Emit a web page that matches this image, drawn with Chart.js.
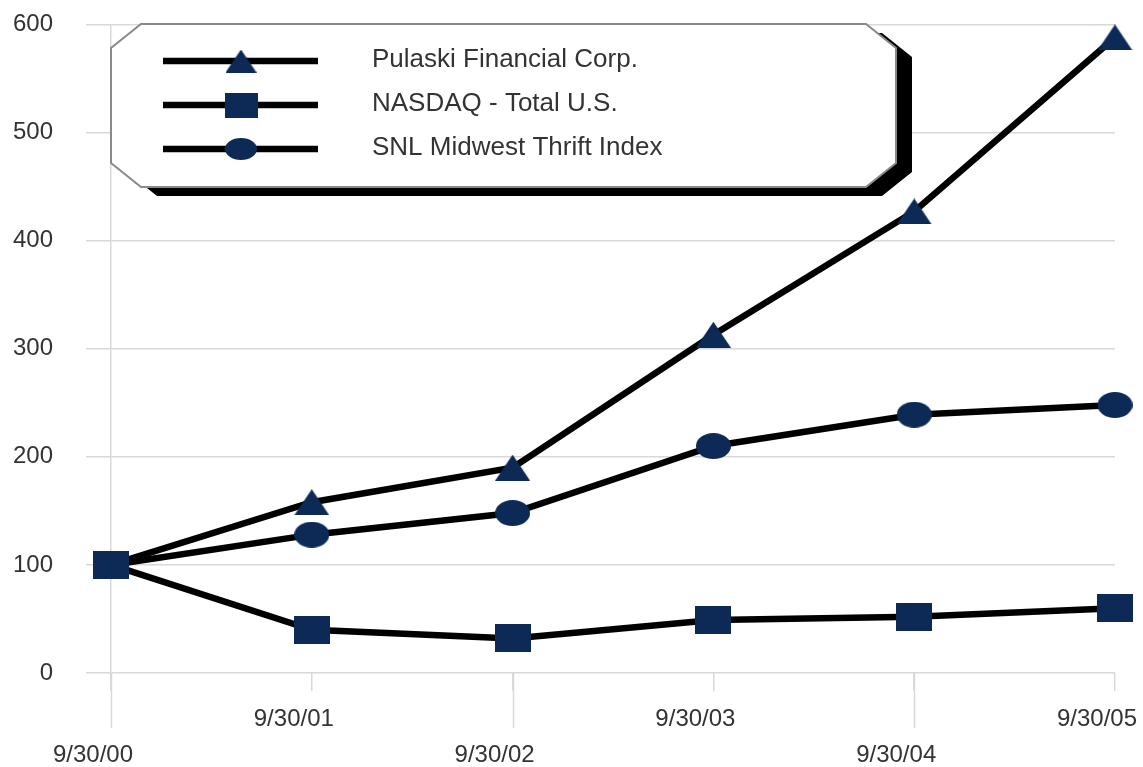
<!DOCTYPE html>
<html>
<head>
<meta charset="utf-8">
<script src="https://cdn.jsdelivr.net/npm/chart.js@4"></script>
<style>
  body { margin: 0; background: #fff; }
  canvas { display: block; }
</style>
</head>
<body>
<canvas id="perf_chart" width="1143" height="767"></canvas>
<script>
const categories = ["9/30/00", "9/30/01", "9/30/02", "9/30/03", "9/30/04", "9/30/05"];
const series_names = ["Pulaski Financial Corp.", "NASDAQ - Total U.S.", "SNL Midwest Thrift Index"];
const pulaski = [100, 158, 190, 313, 427, 588];
const nasdaq = [100, 40, 32, 49, 52, 60];
const snl = [100, 128, 148, 210, 239, 248];

const navy = "#0c2a55";
const grid_color = "#d9d9d9";
const text_color = "#333333";
const font_family = "'Liberation Sans', Arial, Helvetica, sans-serif";

// marker images (the markers are a bit wider than tall)
function make_marker(shape, w, h) {
  const c = document.createElement("canvas");
  c.width = w;
  c.height = h;
  const g = c.getContext("2d");
  g.fillStyle = navy;
  g.beginPath();
  if (shape === "triangle") {
    g.moveTo(w / 2, 0);
    g.lineTo(w, h);
    g.lineTo(0, h);
    g.closePath();
  } else if (shape === "square") {
    g.rect(0, 0, w, h);
  } else {
    g.ellipse(w / 2, h / 2, w / 2, h / 2, 0, 0, Math.PI * 2);
  }
  g.fill();
  return c;
}

const markers = [
  make_marker("triangle", 35, 26),
  make_marker("square", 36, 28),
  make_marker("circle", 35, 26)
];
const legend_markers = [
  make_marker("triangle", 31, 23),
  make_marker("square", 33, 25),
  make_marker("circle", 32, 22)
];

const legend_box = {
  id: "legend_box",
  afterDraw(chart) {
    const ctx = chart.ctx;
    const L = 111, T = 24, R = 896, B = 187, cx = 30, cy = 24;
    const pts = [[L + cx, T], [R - cx, T], [R, T + cy], [R, B - cy], [R - cx, B], [L + cx, B], [L, B - cy], [L, T + cy]];
    ctx.save();
    // shadow
    ctx.fillStyle = "#000";
    ctx.beginPath();
    pts.forEach((p, i) => i ? ctx.lineTo(p[0] + 16, p[1] + 9) : ctx.moveTo(p[0] + 16, p[1] + 9));
    ctx.closePath();
    ctx.fill();
    // box
    ctx.fillStyle = "#fff";
    ctx.strokeStyle = "#8a8a8a";
    ctx.lineWidth = 2;
    ctx.beginPath();
    pts.forEach((p, i) => i ? ctx.lineTo(p[0], p[1]) : ctx.moveTo(p[0], p[1]));
    ctx.closePath();
    ctx.fill();
    ctx.stroke();

    const rows = [61, 105, 149];
    series_names.forEach((name, i) => {
      const y = rows[i];
      ctx.strokeStyle = "#000";
      ctx.lineWidth = 6.5;
      ctx.beginPath();
      ctx.moveTo(163, y);
      ctx.lineTo(318, y);
      ctx.stroke();
      const m = legend_markers[i];
      ctx.drawImage(m, 241 - m.width / 2, y - m.height / 2);
      ctx.fillStyle = text_color;
      ctx.font = "26px " + font_family;
      ctx.textBaseline = "middle";
      ctx.textAlign = "left";
      ctx.fillText(name, 372, y - 1);
    });
    ctx.restore();
  }
};

// every other x tick runs down to the lower label row
const long_ticks = {
  id: "long_ticks",
  afterDraw(chart) {
    const ctx = chart.ctx;
    const xs = chart.scales.x;
    const bottom = chart.chartArea.bottom;
    ctx.save();
    ctx.strokeStyle = grid_color;
    ctx.lineWidth = 1.5;
    categories.forEach((c, i) => {
      if (i % 2 !== 0) return;
      const px = Math.round(xs.getPixelForValue(i)) + 0.5;
      ctx.beginPath();
      ctx.moveTo(px, bottom);
      ctx.lineTo(px, bottom + 55);
      ctx.stroke();
    });
    ctx.restore();
  }
};

function make_dataset(label, data, idx) {
  return {
    label: label,
    data: data,
    borderColor: "#000",
    borderWidth: 6.5,
    backgroundColor: navy,
    pointStyle: markers[idx],
    pointRadius: 18,
    pointHoverRadius: 18,
    tension: 0,
    clip: false
  };
}

const perf_ctx = document.getElementById("perf_chart");

const perf_chart = new Chart(perf_ctx, {
  type: "line",
  data: {
    labels: categories,
    datasets: [
      make_dataset(series_names[1], nasdaq, 1),
      make_dataset(series_names[2], snl, 2),
      make_dataset(series_names[0], pulaski, 0)
    ]
  },
  options: {
    responsive: false,
    animation: false,
    devicePixelRatio: 1,
    layout: { padding: { top: 24, right: 28, left: 0, bottom: 0 } },
    plugins: {
      legend: { display: false },
      tooltip: { enabled: false }
    },
    scales: {
      x: {
        offset: false,
        grid: { drawOnChartArea: false, color: grid_color, lineWidth: 1.5, tickLength: 18 },
        border: { display: false },
        ticks: {
          color: text_color,
          font: { family: font_family, size: 24, lineHeight: 1.5 },
          padding: 10,
          labelOffset: -18,
          maxRotation: 0,
          autoSkip: false,
          callback: (v, i) => i % 2 === 0 ? ["", categories[i]] : categories[i]
        },
        afterFit: (s) => { s.height = 94; s.paddingLeft = 0; s.paddingRight = 0; }
      },
      y: {
        min: 0,
        max: 600,
        grid: { color: grid_color, lineWidth: 1.5, tickLength: 25 },
        border: { color: grid_color, width: 1.5 },
        ticks: {
          stepSize: 100,
          color: text_color,
          font: { family: font_family, size: 24 },
          padding: 33
        },
        afterFit: (s) => { s.width = 111; s.paddingTop = 0; s.paddingBottom = 0; }
      }
    }
  },
  plugins: [long_ticks, legend_box]
});
</script>
</body>
</html>
